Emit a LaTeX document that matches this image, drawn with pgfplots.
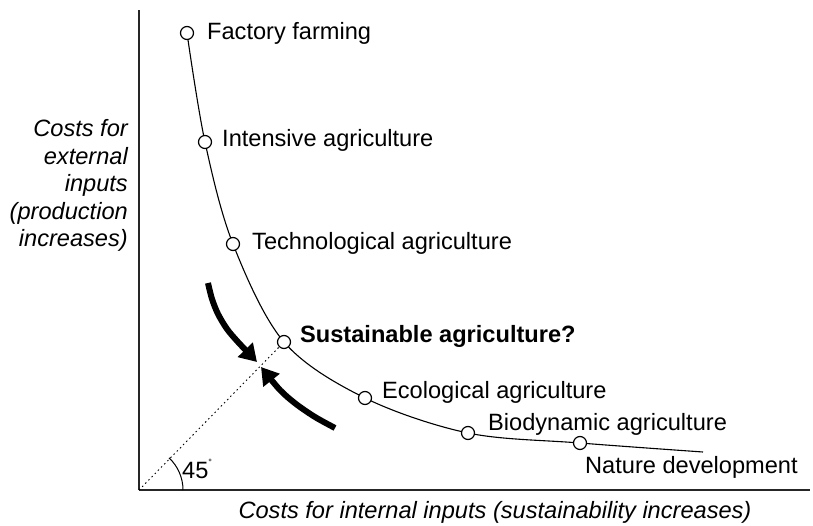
\documentclass[border=0pt]{standalone}
\usepackage{fontspec}
\setmainfont{Liberation Sans}
\usepackage{pgfplots}
\pgfplotsset{compat=1.18}
\usetikzlibrary{arrows.meta}
\newcommand\lbl{\fontsize{23.6pt}{28pt}\selectfont}
\begin{document}
\begin{tikzpicture}
\path[use as bounding box] (-139pt,-35pt) rectangle (674pt,490pt);
\begin{axis}[
  width=671pt, height=480pt, scale only axis,
  xmin=0, xmax=671, ymin=0, ymax=480,
  axis lines=left,
  axis line style={-, line width=1.2pt, black!85},
  xtick=\empty, ytick=\empty,
  clip=false,
]
% curve
\addplot[black, line width=1.1pt, smooth, tension=0.55] coordinates {
 (48,457) (66,348) (94,246) (145,148) (226,92) (329,57) (441,47) (564,38)
};
% dotted 45 degree line
\addplot[black, line width=0.9pt, dash pattern=on 1.5pt off 3pt] coordinates {(0,0) (145,148)};
% arrows
\addplot[black, line width=6pt, smooth, -{Triangle[width=20pt,length=17pt]}] coordinates {
 (69,207) (73,191) (79,176) (88,161) (99,148) (118,128)
};
\addplot[black, line width=6pt, smooth, -{Triangle[width=20pt,length=17pt]}] coordinates {
 (196,62) (176,73) (157,86) (141,100) (122,123)
};
% points
\addplot[only marks, mark=*, mark size=6.5pt, mark options={fill=white, draw=black, line width=1.2pt}] coordinates {
 (48,457) (66,348) (94,246) (145,148) (226,92) (329,57) (441,47)
};
% angle arc
\draw[black, line width=1pt] (axis cs:44,0) arc[start angle=0, end angle=47, radius=44pt];
% labels
\node[anchor=base west, inner sep=0, font=\lbl] at (axis cs:68,450) {Factory farming};
\node[anchor=base west, inner sep=0, font=\lbl] at (axis cs:83,343) {Intensive agriculture};
\node[anchor=base west, inner sep=0, font=\lbl] at (axis cs:113,240) {Technological agriculture};
\node[anchor=base west, inner sep=0, font=\lbl\bfseries] at (axis cs:161,148) {Sustainable agriculture?};
\node[anchor=base west, inner sep=0, font=\lbl] at (axis cs:243,92) {Ecological agriculture};
\node[anchor=base west, inner sep=0, font=\lbl] at (axis cs:349,60) {Biodynamic agriculture};
\node[anchor=base west, inner sep=0, font=\lbl] at (axis cs:446,17) {Nature development};
\node[anchor=base west, inner sep=0, font=\lbl] at (axis cs:43,12) {45\raisebox{0.55em}{\fontsize{9pt}{9pt}\selectfont °}};
\node[anchor=base, inner sep=0, font=\lbl\itshape] at (axis cs:356,-28) {Costs for internal inputs (sustainability increases)};
\node[anchor=base east, inner sep=0, font=\lbl\itshape] at (axis cs:-11,353) {Costs for};
\node[anchor=base east, inner sep=0, font=\lbl\itshape] at (axis cs:-11,325.5) {external};
\node[anchor=base east, inner sep=0, font=\lbl\itshape] at (axis cs:-11,298) {inputs};
\node[anchor=base east, inner sep=0, font=\lbl\itshape] at (axis cs:-11,270.5) {(production};
\node[anchor=base east, inner sep=0, font=\lbl\itshape] at (axis cs:-11,243) {increases)};
\end{axis}
\end{tikzpicture}
\end{document}
